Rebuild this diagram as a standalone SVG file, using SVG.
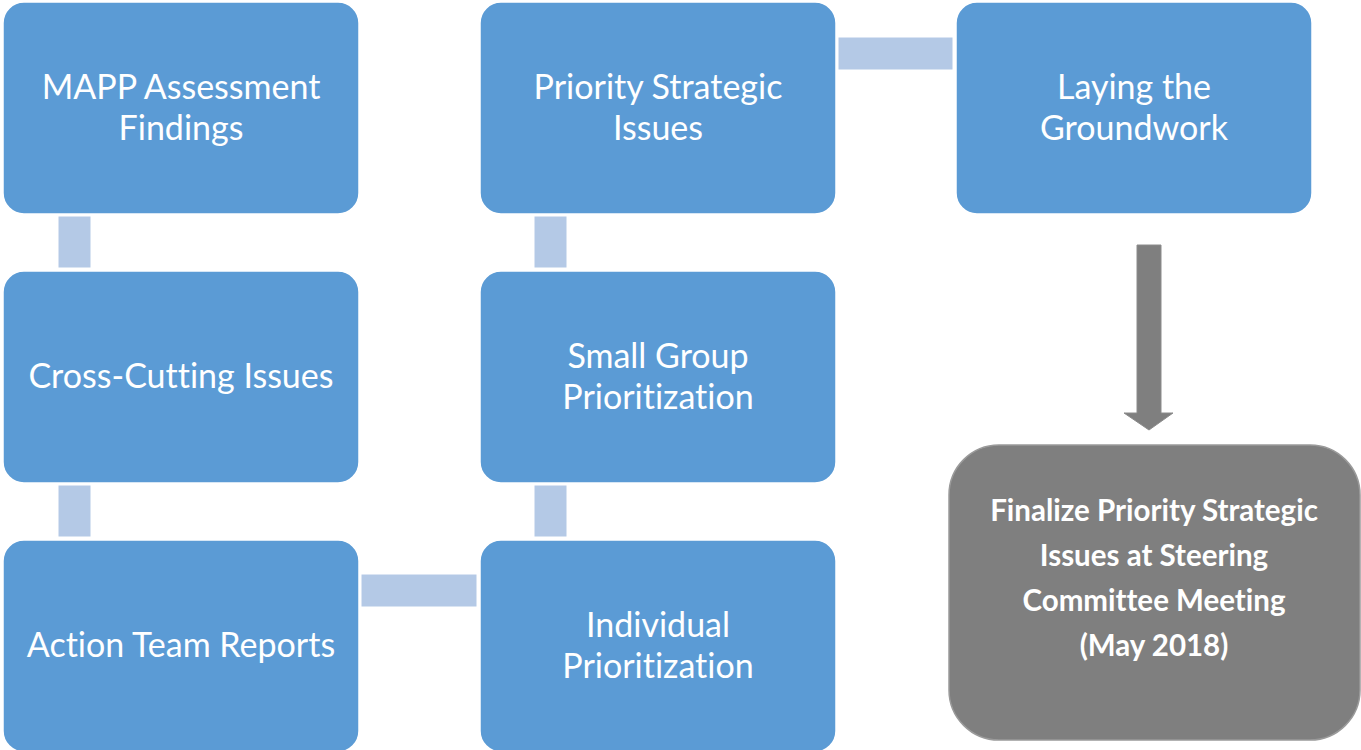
<svg xmlns="http://www.w3.org/2000/svg" width="1361" height="750" viewBox="0 0 1361 750">
<style>
.box{fill:#5b9bd5;stroke:#ffffff;stroke-width:1.5}
.lbl{font-family:Lato,"Open Sans","Liberation Sans",sans-serif;font-size:34px;fill:#ffffff;text-anchor:middle;font-variant-ligatures:none;font-feature-settings:"liga" 0,"dlig" 0}
.conn{fill:#b4c9e6;stroke:#ffffff;stroke-width:1}
.gbox{fill:#7f7f7f;stroke:#9a9a9a;stroke-width:1.5}
.glbl{font-family:Lato,"Open Sans","Liberation Sans",sans-serif;font-size:29.5px;font-weight:bold;fill:#ffffff;text-anchor:middle;font-variant-ligatures:none;font-feature-settings:"liga" 0,"dlig" 0}
</style>
<rect width="1361" height="750" fill="#ffffff"/>
<g id="connectors">
<rect class="conn" x="58" y="216" width="33" height="52"/>
<rect class="conn" x="58" y="485" width="33" height="52"/>
<rect class="conn" x="361" y="574" width="116" height="33"/>
<rect class="conn" x="534" y="485" width="33" height="52"/>
<rect class="conn" x="534" y="216" width="33" height="52"/>
<rect class="conn" x="838" y="37" width="115" height="33"/>
<path d="M1137 245 H1161 V413 H1173 L1149 430 L1124 413 H1137 Z" fill="#7f7f7f" stroke="#8c8c8c" stroke-width="1"/>
</g>
<g id="n1"><rect class="box" x="3" y="2" width="356" height="212" rx="21"/>
<text class="lbl" x="181" y="99">MAPP Assessment</text><text class="lbl" x="181" y="140">Findings</text></g>
<g id="n2"><rect class="box" x="3" y="271" width="356" height="212" rx="21"/>
<text class="lbl" x="181" y="388">Cross-Cutting Issues</text></g>
<g id="n3"><rect class="box" x="3" y="540" width="356" height="212" rx="21"/>
<text class="lbl" x="181" y="657">Action Team Reports</text></g>
<g id="n4"><rect class="box" x="480" y="540" width="356" height="212" rx="21"/>
<text class="lbl" x="658" y="637">Individual</text><text class="lbl" x="658" y="678">Prioritization</text></g>
<g id="n5"><rect class="box" x="480" y="271" width="356" height="212" rx="21"/>
<text class="lbl" x="658" y="368">Small Group</text><text class="lbl" x="658" y="409">Prioritization</text></g>
<g id="n6"><rect class="box" x="480" y="2" width="356" height="212" rx="21"/>
<text class="lbl" x="658" y="99">Priority Strategic</text><text class="lbl" x="658" y="140">Issues</text></g>
<g id="n7"><rect class="box" x="956" y="2" width="356" height="212" rx="21"/>
<text class="lbl" x="1134" y="99">Laying the</text><text class="lbl" x="1134" y="140">Groundwork</text></g>
<g id="n8"><rect class="gbox" x="949" y="445" width="411" height="295" rx="50"/>
<text class="glbl" x="1154" y="521">Finalize Priority Strategic</text>
<text class="glbl" x="1154" y="566">Issues at Steering</text>
<text class="glbl" x="1154" y="611">Committee Meeting</text>
<text class="glbl" x="1154" y="656">(May 2018)</text></g>
</svg>
